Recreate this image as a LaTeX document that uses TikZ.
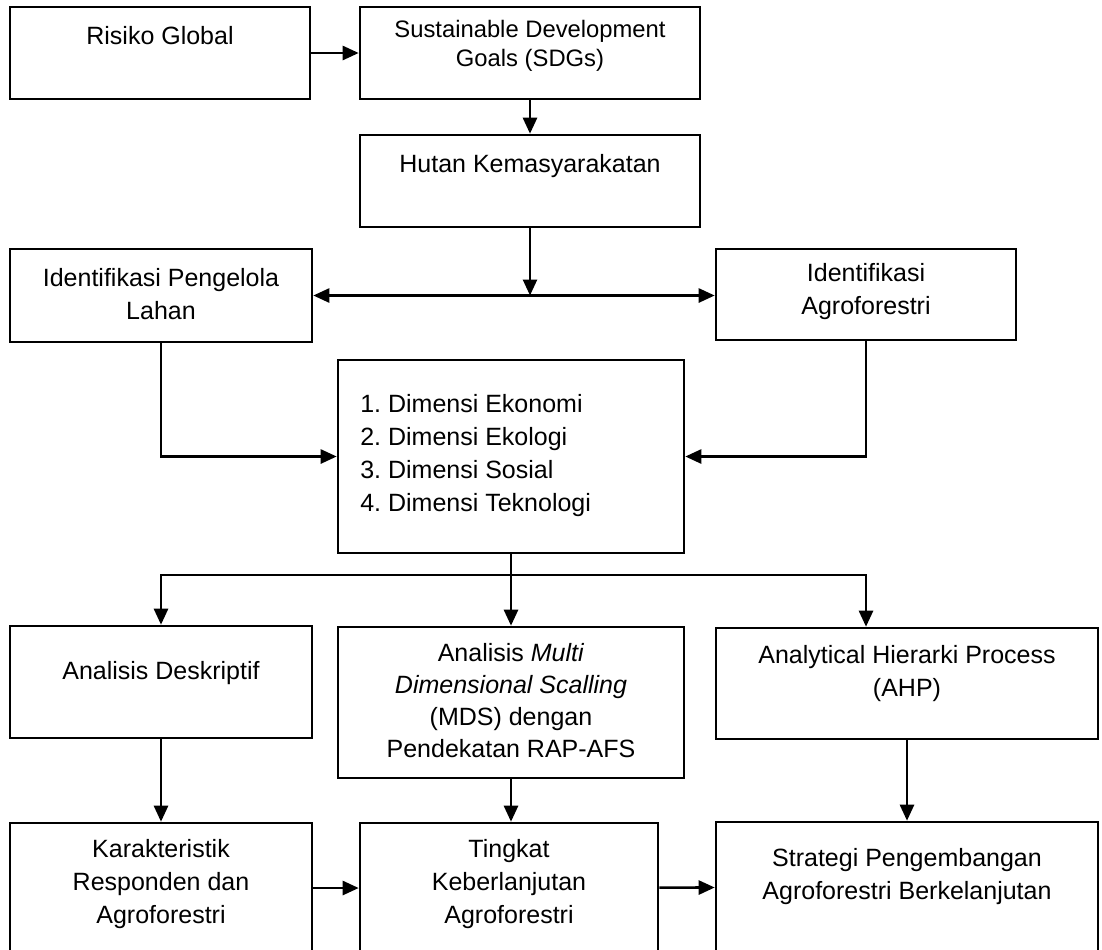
\documentclass[tikz,border=0pt]{standalone}
\usepackage{fontspec}
\setmainfont{Liberation Sans}
\usetikzlibrary{arrows.meta,fit}

\begin{document}
\begin{tikzpicture}[x=0.5pt, y=-0.5pt, line width=1.3pt,
  box/.style={draw, inner sep=0pt},
  txt/.style={align=center, inner sep=0pt, font=\fontsize{12.5}{16.5}\selectfont\frenchspacing},
  arr/.style={-{Triangle[length=8pt,width=7pt]}},
  dbl/.style={{Triangle[length=8pt,width=7pt]}-{Triangle[length=8pt,width=7pt]}}]

\useasboundingbox (0,0) rectangle (1102,949);
\clip (0,0) rectangle (1102,949);

% Boxes
\node[box, fit={(10,7) (310,99)}] (risiko) {};
\node[box, fit={(360,7) (700,99)}] (sdgs) {};
\node[box, fit={(360,135) (700,227)}] (hutan) {};
\node[box, fit={(10,249) (312,342)}] (pengelola) {};
\node[box, fit={(716,249) (1016,340)}] (agro) {};
\node[box, fit={(338,360) (684,553)}] (dimensi) {};
\node[box, fit={(10,626) (312,738)}] (deskriptif) {};
\node[box, fit={(338,627) (684,778)}] (mds) {};
\node[box, fit={(716,628) (1098,739)}] (ahp) {};
\node[box, fit={(10,823) (312,953)}] (karakter) {};
\node[box, fit={(360,823) (658,953)}] (tingkat) {};
\node[box, fit={(716,822) (1098,952)}] (strategi) {};

% Texts
\node[txt] (risiko-t) at (160,36) {Risiko Global};
\node[txt, font=\fontsize{11.9}{14.5}\selectfont] (sdgs-t) at (530,46) {Sustainable Development\\Goals (SDGs)};
\node[txt] (hutan-t) at (530,166) {Hutan Kemasyarakatan};
\node[txt] (pengelola-t) at (161,294) {Identifikasi Pengelola\\Lahan};
\node[txt] (agro-t) at (866,292) {Identifikasi\\Agroforestri};
\node[txt, align=left, anchor=west] (dimensi-t) at (359,456) {1. Dimensi Ekonomi\\2. Dimensi Ekologi\\3. Dimensi Sosial\\4. Dimensi Teknologi};
\node[txt] (deskriptif-t) at (161,673) {Analisis Deskriptif};
\node[txt, font=\fontsize{12.5}{16}\selectfont] (mds-t) at (511,701) {Analisis \textit{Multi}\\\textit{Dimensional Scalling}\\(MDS) dengan\\Pendekatan RAP-AFS};
\node[txt] (ahp-t) at (907,674) {Analytical Hierarki Process\\(AHP)};
\node[txt] (karakter-t) at (161,884) {Karakteristik\\Responden dan\\Agroforestri};
\node[txt] (tingkat-t) at (509,884) {Tingkat\\Keberlanjutan\\Agroforestri};
\node[txt] (strategi-t) at (907,877) {Strategi Pengembangan\\Agroforestri Berkelanjutan};

% Joints
\coordinate (join) at (hutan.south |- pengelola.east);
\coordinate (split) at (511,575);

% Edges
\draw[arr] (risiko) -- (sdgs);
\draw[arr] (sdgs) -- (hutan);
\draw[arr] (hutan) -- (join);
\draw[dbl] (pengelola.east) -- (pengelola.east -| agro.west);
\draw[arr] (pengelola) |- (dimensi);
\draw[arr] (agro) |- (dimensi);
\draw (dimensi) -- (split);
\draw[arr] (split) -| (deskriptif);
\draw[arr] (split) -- (mds);
\draw[arr] (split) -| (ahp.north -| agro.south);
\draw[arr] (deskriptif) -- (karakter);
\draw[arr] (mds.south) -- (mds.south |- tingkat.north);
\draw[arr] (ahp) -- (strategi);
\draw[arr] (karakter) -- (tingkat);
\draw[arr] (tingkat) -- (strategi);

\end{tikzpicture}
\end{document}
